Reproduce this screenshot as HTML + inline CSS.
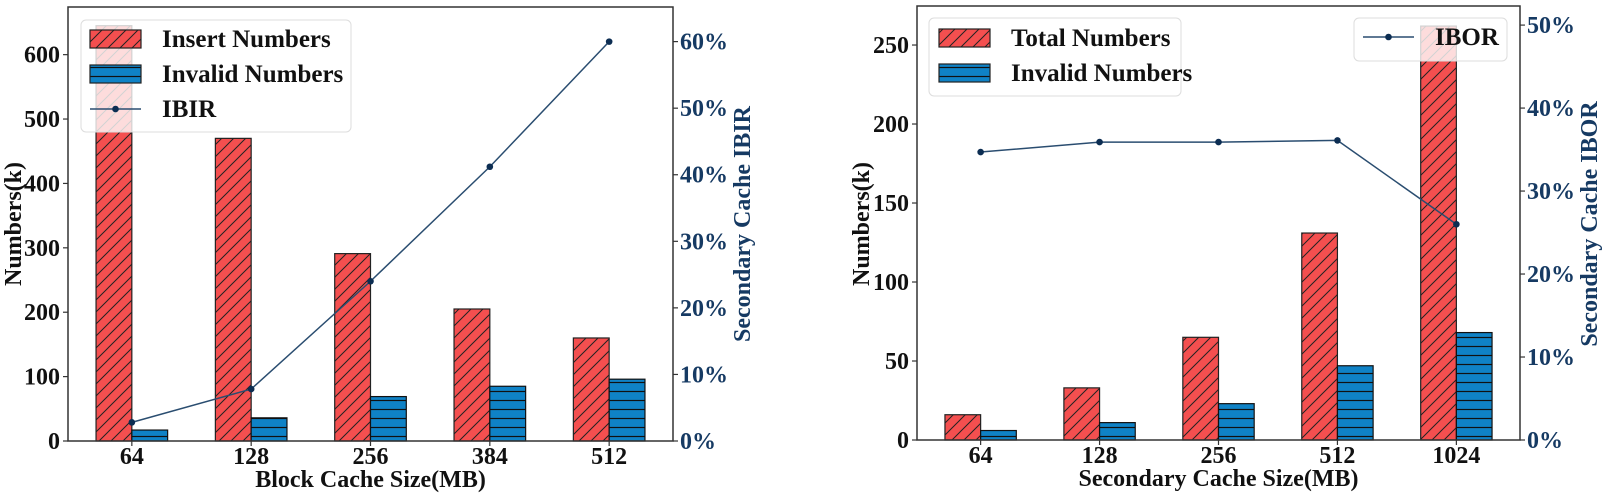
<!DOCTYPE html>
<html><head><meta charset="utf-8"><style>
html,body{margin:0;padding:0;background:#fff;}
svg{display:block;font-family:"Liberation Serif",serif;font-weight:bold;}
</style></head><body>
<svg id="chart" width="1604" height="493" viewBox="0 0 1604 493" xmlns="http://www.w3.org/2000/svg">
<defs>
<pattern id="hatchR" patternUnits="userSpaceOnUse" width="12" height="12">
<rect width="12" height="12" fill="#f44f4f"/>
<path d="M-3,3 L3,-3 M0,12 L12,0 M9,15 L15,9" stroke="#222" stroke-width="1"/>
</pattern>
<pattern id="hatchB" patternUnits="userSpaceOnUse" width="10" height="9">
<rect width="10" height="9" fill="#0f82c6"/>
<path d="M0,4.5 L10,4.5" stroke="#111" stroke-width="1.2"/>
</pattern>
</defs>
<g id="left"></g>
<g id="right"></g>
</svg>
<script>
const leftCats = ["64","128","256","384","512"];
const leftInsert = [645, 470, 291, 205, 160];
const leftInvalid = [17, 36, 69, 85, 96];
const leftIBIR = [2.8, 7.8, 24, 41.2, 60];
const leftYTicks = [0,100,200,300,400,500,600];
const leftRTicks = [0,10,20,30,40,50,60];

const rightCats = ["64","128","256","512","1024"];
const rightTotal = [16, 33, 65, 131, 262];
const rightInvalid = [6, 11, 23, 47, 68];
const rightIBOR = [34.7, 35.9, 35.9, 36.1, 26.0];
const rightYTicks = [0,50,100,150,200,250];
const rightRTicks = [0,10,20,30,40,50];

const NS = "http://www.w3.org/2000/svg";
const FS = 24, LFS = 25;
function mk(parent, tag, attrs, text){
  const e = document.createElementNS(NS, tag);
  for (const k in attrs) e.setAttribute(k, attrs[k]);
  if (text !== undefined) e.textContent = text;
  parent.appendChild(e);
  return e;
}

function drawChart(g, cfg){
  const L=cfg.L, R=cfg.R, T=cfg.T, B=cfg.B;
  const n = cfg.cats.length;
  const x0 = -0.535, x1 = n-1+0.535;
  const xs = i => L + (i - x0)/(x1-x0)*(R-L);
  const ys = v => B - v/cfg.ymax*(B-T);
  const yr = v => B - v/cfg.rmax*(B-T);
  const bw = 0.3*(R-L)/(x1-x0);
  cfg.red.forEach((v,i)=>{
    const r = mk(g,'rect',{x:xs(i)-bw,y:ys(v),width:bw,height:B-ys(v),fill:'url(#hatchR)',stroke:'#222','stroke-width':1.2});
    
    
  });
  cfg.blue.forEach((v,i)=>{
    const r = mk(g,'rect',{x:xs(i),y:ys(v),width:bw,height:B-ys(v),fill:'url(#hatchB)',stroke:'#111','stroke-width':1.2});
    
    
  });
  const pts = cfg.line.map((v,i)=>xs(i)+','+yr(v)).join(' ');
  const pl = mk(g,'polyline',{points:pts,fill:'none',stroke:'#2a4d70','stroke-width':1.5});
  
  
  cfg.line.forEach((v,i)=>{
    const c = mk(g,'circle',{cx:xs(i),cy:yr(v),r:3.3,fill:'#0c2d52'});
    
    
  });
  const fr = mk(g,'rect',{x:L,y:T,width:R-L,height:B-T,fill:'none',stroke:'#333','stroke-width':1.5});
  
  
  cfg.yticks.forEach(v=>{
    mk(g,'line',{x1:L-5,x2:L,y1:ys(v),y2:ys(v),stroke:'#333','stroke-width':1.2});
    const t = mk(g,'text',{x:L-8,y:ys(v)+8,'text-anchor':'end','font-size':FS,fill:'#111'}, String(v));
    
    
  });
  cfg.rticks.forEach(v=>{
    mk(g,'line',{x1:R,x2:R+5,y1:yr(v),y2:yr(v),stroke:'#333','stroke-width':1.2});
    const t = mk(g,'text',{x:R+7,y:yr(v)+8,'font-size':FS,fill:'#163a63'}, v+'%');
    
    
  });
  cfg.cats.forEach((c,i)=>{
    mk(g,'line',{x1:xs(i),x2:xs(i),y1:B,y2:B+5,stroke:'#333','stroke-width':1.2});
    const t = mk(g,'text',{x:xs(i),y:B+23,'text-anchor':'middle','font-size':FS,fill:'#111'}, c);
    
    
  });
  const xt = mk(g,'text',{x:(L+R)/2,y:B+46,'text-anchor':'middle','font-size':FS,fill:'#111'}, cfg.xtitle);
  
  
  const ytx = cfg.ytitleX, ymid=224;
  const yt = mk(g,'text',{x:ytx,y:ymid,'text-anchor':'middle','font-size':FS,fill:'#111',transform:'rotate(-90 '+ytx+' '+ymid+')'}, 'Numbers(k)');
  
  
  const rx = cfg.rtitleX;
  const rt = mk(g,'text',{x:rx,y:ymid,'text-anchor':'middle','font-size':FS,fill:'#163a63',transform:'rotate(-90 '+rx+' '+ymid+')'}, cfg.rtitle);
  
  
}

function legendBox(g, x, y, w, h, name){
  const r = mk(g,'rect',{x:x,y:y,width:w,height:h,rx:5,fill:'rgba(255,255,255,0.8)',stroke:'#ddd','stroke-width':1});
  
  
}
function legendPatch(g, x, y, fill, label, name){
  const p = mk(g,'rect',{x:x,y:y-9,width:51,height:18,fill:fill,stroke:'#222','stroke-width':1.2});
  
  
  const t = mk(g,'text',{x:x+72,y:y+8,'font-size':LFS,fill:'#111'}, label);
  
  
}
function legendLine(g, x, y, label, name){
  mk(g,'line',{x1:x,x2:x+51,y1:y,y2:y,stroke:'#2a4d70','stroke-width':1.5});
  mk(g,'circle',{cx:x+25.5,cy:y,r:3.3,fill:'#0c2d52'});
  const t = mk(g,'text',{x:x+72,y:y+8,'font-size':LFS,fill:'#111'}, label);
  
  
}

const gl = document.getElementById('left');
drawChart(gl,{L:68,R:673,T:7,B:441,ymax:674,rmax:65.2,cats:leftCats,red:leftInsert,blue:leftInvalid,line:leftIBIR,
  yticks:leftYTicks,rticks:leftRTicks,xtitle:'Block Cache Size(MB)',rtitle:'Secondary Cache IBIR',ytitleX:21,rtitleX:750});
const lg = mk(gl,'g',{});


legendBox(lg,81,20,270,112,'left-legend-box');
legendPatch(lg,90,39,'url(#hatchR)','Insert Numbers','legend-insert');
legendPatch(lg,90,74,'url(#hatchB)','Invalid Numbers','legend-invalid');
legendLine(lg,90,109,'IBIR','legend-ibir');

const gr = document.getElementById('right');
drawChart(gr,{L:917,R:1520,T:6,B:440,ymax:274.7,rmax:52.3,cats:rightCats,red:rightTotal,blue:rightInvalid,line:rightIBOR,
  yticks:rightYTicks,rticks:rightRTicks,xtitle:'Secondary Cache Size(MB)',rtitle:'Secondary Cache IBOR',ytitleX:869,rtitleX:1597});
const rg = mk(gr,'g',{});


legendBox(rg,929,18,252,78,'right-legend-box');
legendPatch(rg,939,38,'url(#hatchR)','Total Numbers','legend-total');
legendPatch(rg,939,73,'url(#hatchB)','Invalid Numbers','legend-invalid-right');
const rg2 = mk(gr,'g',{});


legendBox(rg2,1354,18,153,43,'ibor-legend-box');
legendLine(rg2,1363,37,'IBOR','legend-ibor');
</script>
</body></html>
